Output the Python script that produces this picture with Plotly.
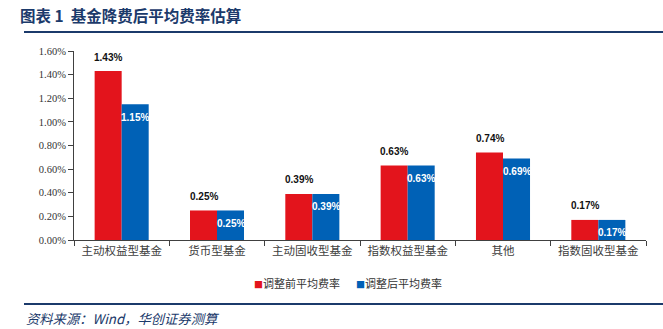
import plotly.graph_objects as go

# Fund categories and average fee rates (%) before / after the fee cut
categories = ["主动权益型基金", "货币型基金", "主动固收型基金", "指数权益型基金", "其他", "指数固收型基金"]
fee_before = [1.43, 0.25, 0.39, 0.63, 0.74, 0.17]
fee_after = [1.15, 0.25, 0.39, 0.63, 0.69, 0.17]
series_names = ["调整前平均费率", "调整后平均费率"]
y_ticks = [0.0, 0.2, 0.4, 0.6, 0.8, 1.0, 1.2, 1.4, 1.6]
y_tick_labels = [f"{v:.2f}%" for v in y_ticks]

RED = "#E3141C"
BLUE = "#0061B6"
NAVY = "#1B3A6B"

fig = go.Figure()
fig.add_trace(go.Bar(x=categories, y=fee_before, name=series_names[0],
                     marker=dict(color=RED, line=dict(width=0))))
fig.add_trace(go.Bar(x=categories, y=fee_after, name=series_names[1],
                     marker=dict(color=BLUE, line=dict(width=0))))

label_font = dict(family="Liberation Sans, Arial", size=10)
annotations = []
for cat, vb, va in zip(categories, fee_before, fee_after):
    # value above the "before" bar
    annotations.append(dict(x=cat, y=vb, xref="x", yref="y", text=f"<b>{vb:.2f}%</b>",
                            showarrow=False, xshift=-13.5, yshift=14,
                            font=dict(color="#111111", **label_font)))
    # value just inside the top of the "after" bar
    annotations.append(dict(x=cat, y=va, xref="x", yref="y", text=f"<b>{va:.2f}%</b>",
                            showarrow=False, xshift=13.5, yshift=-13,
                            font=dict(color="#FFFFFF", **label_font)))

# Title and source note
annotations.append(dict(xref="paper", yref="paper", x=-0.0909, y=1.19, xanchor="left", yanchor="middle",
                        xshift=-4,
                        text="<b>图表 1\u00a0\u00a0基金降费后平均费率估算</b>", showarrow=False,
                        font=dict(family="Noto Sans CJK SC", size=15.5, color=NAVY)))
annotations.append(dict(xref="paper", yref="paper", x=-0.0874, y=-0.413, xanchor="left", yanchor="middle",
                        xshift=0,
                        text="<i>资料来源：Wind，华创证券测算</i>", showarrow=False,
                        font=dict(family="Noto Sans CJK SC", size=13.3, color=NAVY)))

# Legend entries
legend_font = dict(family="Noto Sans CJK SC", size=11, color="#333333")
annotations.append(dict(xref="paper", yref="paper", x=0.312, y=-0.227, xanchor="left", yanchor="middle",
                        text=f"<span style='color:{RED};font-size:9px'>■</span>{series_names[0]}",
                        showarrow=False, font=legend_font))
annotations.append(dict(xref="paper", yref="paper", x=0.49, y=-0.227, xanchor="left", yanchor="middle",
                        text=f"<span style='color:{BLUE};font-size:9px'>■</span>{series_names[1]}",
                        showarrow=False, font=legend_font))

shapes = [
    dict(type="line", xref="paper", yref="paper", x0=-0.0874, x1=1.03, y0=1.101, y1=1.101,
         line=dict(color=NAVY, width=2)),
    dict(type="line", xref="paper", yref="paper", x0=-0.0874, x1=1.03, y0=-0.338, y1=-0.338,
         line=dict(color=NAVY, width=2)),
]

fig.update_layout(
    width=663, height=329,
    margin=dict(l=74, r=17, t=51, b=89),
    paper_bgcolor="white", plot_bgcolor="white",
    barmode="group", bargap=0.433, bargroupgap=0,
    showlegend=False,
    annotations=annotations,
    shapes=shapes,
    xaxis=dict(type="category", showline=True, linecolor="#404040", linewidth=1,
               ticks="outside", tickson="boundaries", ticklen=5, tickcolor="#404040",
               tickfont=dict(family="Noto Sans CJK SC", size=11.5, color="#404040"),
               showgrid=False, zeroline=False),
    yaxis=dict(range=[0, 1.6], tickvals=y_ticks, ticktext=y_tick_labels,
               showline=True, linecolor="#404040", linewidth=1,
               ticks="outside", ticklen=5, tickcolor="#404040",
               tickfont=dict(family="Liberation Serif, Times New Roman", size=10.5, color="#333333"),
               showgrid=False, zeroline=False),
)

fig.write_html("out.html")
